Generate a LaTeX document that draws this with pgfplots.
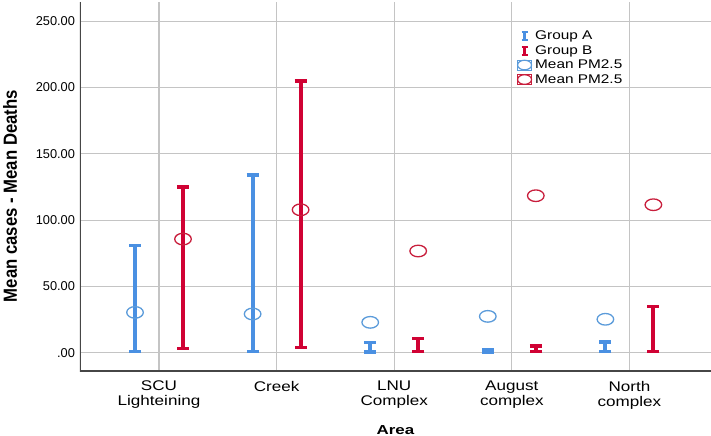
\documentclass[border=0pt]{standalone}
\usepackage{fontspec}
\setmainfont{Liberation Sans}
\usepackage{graphicx}
\usepackage{pgfplots}
\pgfplotsset{compat=1.18}
\definecolor{blueA}{RGB}{74,144,226}
\definecolor{redB}{RGB}{208,2,52}
\definecolor{blueC}{RGB}{91,155,218}
\definecolor{redC}{RGB}{200,30,60}
\definecolor{gridc}{RGB}{196,196,196}
\definecolor{axc}{RGB}{70,70,70}
\newcommand{\sx}[1]{\scalebox{1.22}[1]{#1}}
\begin{document}
\begin{tikzpicture}
\path[use as bounding box] (-80bp,-65bp) rectangle (631bp,371bp);
\begin{axis}[
  at={(0,0)}, anchor=south west,
  width=631bp, height=369bp, scale only axis,
  xmin=-0.672, xmax=4.694, ymin=-13.8, ymax=264.5,
  axis line style={draw=none},
  xtick={0,1,2,3,4},
  xticklabels={{\sx{SCU}\\\sx{Lighteining}},{\sx{Creek}},{\sx{LNU}\\\sx{Complex}},{\sx{August}\\\sx{complex}},{\sx{North}\\\sx{complex}}},
  xticklabel style={align=center, font=\fontsize{14bp}{15bp}\selectfont, yshift=-6.5bp},
  ytick={0,50,100,150,200,250},
  yticklabels={.00,50.00,100.00,150.00,200.00,250.00},
  yticklabel style={font=\fontsize{12.8bp}{14bp}\selectfont, xshift=-1.5bp},
  major tick length=0pt,
  grid=major, major grid style={gridc, line width=1.1bp},
  xlabel={\scalebox{1.3}[1]{\bfseries Area}},
  xlabel style={at={(axis description cs:0.5,0)}, anchor=north, inner sep=0pt, outer sep=0pt, yshift=-54.3bp, font=\fontsize{13bp}{14bp}\selectfont},
  ylabel={\scalebox{0.88}[1]{\bfseries Mean cases - Mean Deaths}},
  ylabel style={at={(axis description cs:-0.111,0.474)}, anchor=center, rotate=0, font=\fontsize{19bp}{20bp}\selectfont},
  legend style={at={(axis description cs:0.6925,0.924)}, anchor=north west, draw=none, fill=none,
    inner sep=0pt, outer sep=0pt, row sep=2.5bp,
    font=\fontsize{12.6bp}{14bp}\selectfont,
    nodes={inner sep=0pt, text height=9.5bp, text depth=2.5bp},
    /tikz/every odd column/.style={column sep=3bp}},
  legend cell align=left,
]
% Group A (blue) intervals
\addplot[draw=none, mark=none,
  legend image code/.code={%
    \path (-7bp,-5bp) rectangle (7bp,5bp);
    \draw[blueA, line width=2.6bp] (0bp,-4bp)--(0bp,4bp);
    \draw[blueA, line width=2bp] (-3bp,-4bp)--(3bp,-4bp) (-3bp,4bp)--(3bp,4bp);},
  error bars/.cd, y dir=both, y explicit,
  error bar style={draw=blueA, line width=4bp},
  error mark options={draw=blueA, rotate=90, mark size=6bp, line width=3.5bp}]
  coordinates {
  (-0.204,41)   +- (0,40)
  (0.796,67.5)  +- (0,66.5)
  (1.796,4.1)   +- (0,3.6)
  (2.796,1.5)   +- (0,1)
  (3.796,4.5)   +- (0,3.7)
  };
\addlegendentry{\sx{Group A}}
% Group B (red) intervals
\addplot[draw=none, mark=none,
  legend image code/.code={%
    \path (-7bp,-5bp) rectangle (7bp,5bp);
    \draw[redB, line width=2.6bp] (0bp,-4bp)--(0bp,4bp);
    \draw[redB, line width=2bp] (-3bp,-4bp)--(3bp,-4bp) (-3bp,4bp)--(3bp,4bp);},
  error bars/.cd, y dir=both, y explicit,
  error bar style={draw=redB, line width=4bp},
  error mark options={draw=redB, rotate=90, mark size=6bp, line width=3.5bp}]
  coordinates {
  (0.204,64)     +- (0,61)
  (1.204,104.5)  +- (0,100.5)
  (2.204,5.8)    +- (0,4.9)
  (3.204,3)      +- (0,2)
  (4.204,17.75)  +- (0,16.95)
  };
\addlegendentry{\sx{Group B}}
% Mean PM2.5 (blue circles)
\addplot[only marks, mark=o, blueC, mark size=5.8bp, mark options={xscale=1.43, line width=1.3bp},
  legend image code/.code={%
    \path (-7bp,-5bp) rectangle (7bp,5bp);
    \draw[blueC, line width=1.2bp] (0bp,0bp) ellipse (7bp and 4.8bp);}]
  coordinates {(-0.204,30.4) (0.796,29.2) (1.796,22.9) (2.796,27.4) (3.796,25.2)};
\addlegendentry{\sx{Mean PM2.5}}
% Mean PM2.5 (red circles)
\addplot[only marks, mark=o, redC, mark size=5.8bp, mark options={xscale=1.43, line width=1.3bp},
  legend image code/.code={%
    \path (-7bp,-5bp) rectangle (7bp,5bp);
    \draw[redC, line width=1.2bp] (0bp,0bp) ellipse (7bp and 4.8bp);}]
  coordinates {(0.204,85.7) (1.204,107.8) (2.204,76.7) (3.204,118.4) (4.204,111.6)};
\addlegendentry{\sx{Mean PM2.5}}
\draw[axc, line width=1.2bp] (rel axis cs:0,1) -- (rel axis cs:0,0) -- (rel axis cs:1,0);
\end{axis}
\end{tikzpicture}
\end{document}
